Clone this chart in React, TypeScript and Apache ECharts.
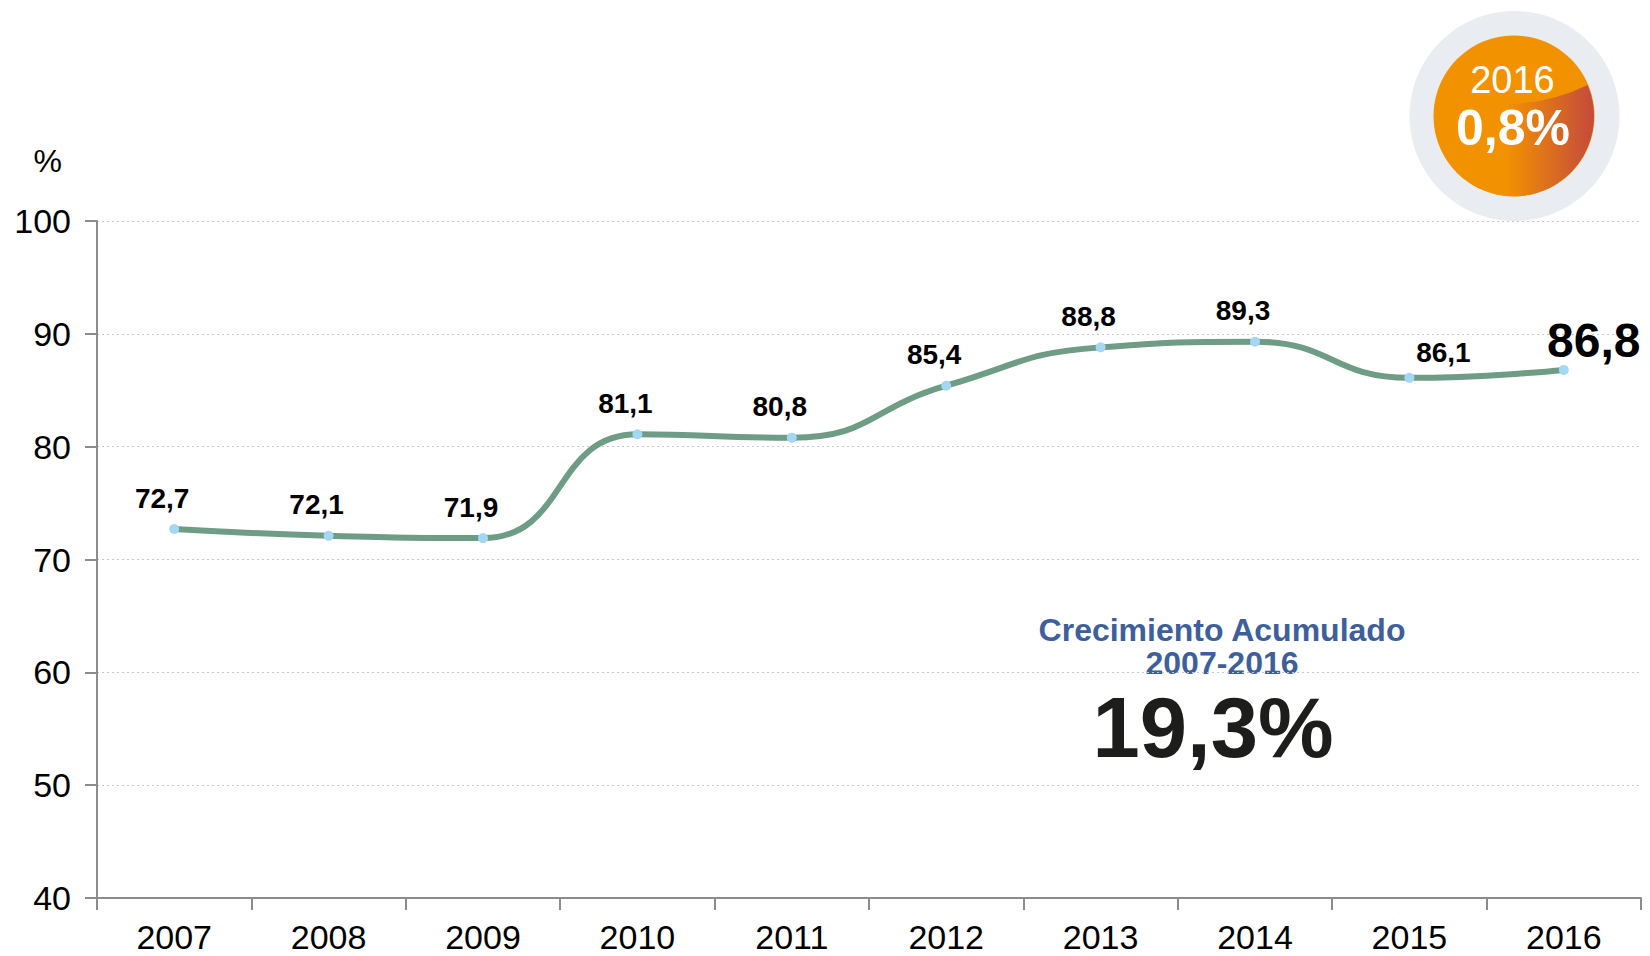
import React, { useEffect, useRef } from "react";
import * as echarts from "echarts";

const years = ["2007", "2008", "2009", "2010", "2011", "2012", "2013", "2014", "2015", "2016"];
const values = [72.7, 72.1, 71.9, 81.1, 80.8, 85.4, 88.8, 89.3, 86.1, 86.8];
const yMin = 40;
const yMax = 100;
const yInterval = 10;
const yUnit = "%";
const growthTitle = "Crecimiento Acumulado";
const growthPeriod = "2007-2016";
const growthValue = "19,3%";
const badgeYear = "2016";
const badgeValue = "0,8%";

const FONT = '"Liberation Sans", Arial, sans-serif';

echarts.graphic.registerShape(
  "badgeRed",
  echarts.graphic.extendPath("M 73.6 -31 Q 35 -12 -10 -12 L -79.1 -12 A 80 80 0 1 0 73.6 -31 Z", {})
);

const fmt = (v: number) => v.toFixed(1).replace(".", ",");

export default function App() {
  const ref = useRef<HTMLDivElement>(null);
  useEffect(() => {
    document.body.style.margin = "0";
    const chart = echarts.init(ref.current!, null, { renderer: "svg" });
    const last = values.length - 1;
    const seriesData = values.map((v, i) => {
      if (i === last) {
        return { value: v, label: { fontSize: 48, offset: [30, 12] } };
      }
      if (i === last - 1) {
        return { value: v, label: { offset: [34, 6] } };
      }
      return { value: v };
    });
    chart.setOption({
      animation: false,
      backgroundColor: "#ffffff",
      grid: { left: 97, right: 9, top: 221, bottom: 58, containLabel: false },
      xAxis: {
        type: "category",
        data: years,
        boundaryGap: true,
        axisLine: { lineStyle: { color: "#8c8c8c", width: 2 } },
        axisTick: { show: true, length: 12, lineStyle: { color: "#8c8c8c", width: 2 } },
        axisLabel: { color: "#000", fontSize: 34, lineHeight: 34, fontFamily: FONT, margin: 22 },
        splitLine: { show: false },
      },
      yAxis: {
        type: "value",
        min: yMin,
        max: yMax,
        interval: yInterval,
        name: yUnit,
        nameLocation: "end",
        nameGap: 44,
        nameTextStyle: { color: "#000", fontSize: 32, fontFamily: FONT, align: "right", padding: [0, 35, 0, 0] },
        axisLine: { show: true, lineStyle: { color: "#8c8c8c", width: 2 } },
        axisTick: { show: true, length: 12, lineStyle: { color: "#8c8c8c", width: 2 } },
        axisLabel: { color: "#000", fontSize: 34, fontFamily: FONT, margin: 26 },
        splitLine: { show: true, lineStyle: { color: "#c8c8c8", width: 1, type: [2, 3] } },
      },
      series: [
        {
          type: "line",
          data: seriesData,
          smooth: 0.5,
          symbol: "circle",
          symbolSize: 10,
          showAllSymbol: true,
          lineStyle: { color: "#6e9c84", width: 6 },
          itemStyle: { color: "#a3d7f4", borderWidth: 0 },
          label: {
            show: true,
            position: "top",
            distance: 12,
            offset: [-12, 0],
            color: "#000",
            fontWeight: "bold",
            fontSize: 28,
            fontFamily: FONT,
            formatter: (p: any) => fmt(p.value),
          },
          z: 3,
        },
      ],
      graphic: [
        {
          type: "text",
          style: {
            text: `${growthTitle}\n${growthPeriod}`,
            x: 1222,
            y: 646,
            textAlign: "center",
            textVerticalAlign: "middle",
            fill: "#3d5f9b",
            font: `bold 32px ${FONT}`,
            lineHeight: 33,
          },
        },
        {
          type: "text",
          style: {
            text: growthValue,
            x: 1213,
            y: 727,
            textAlign: "center",
            textVerticalAlign: "middle",
            fill: "#1d1d1b",
            font: `bold 85px ${FONT}`,
          },
        },
        {
          type: "circle",
          shape: { cx: 1514.5, cy: 116, r: 105 },
          style: { fill: "#e9ecf1" },
        },
        {
          type: "circle",
          shape: { cx: 1514, cy: 116, r: 80.5 },
          style: { fill: "#f39200" },
        },
        {
          type: "badgeRed",
          x: 1514,
          y: 116,
          style: {
            fill: new echarts.graphic.LinearGradient(0, 0, 1, 0, [
              { offset: 0, color: "#f39200" },
              { offset: 0.45, color: "#f39200" },
              { offset: 1, color: "#c44a3d" },
            ]),
          },
        },
        {
          type: "text",
          style: {
            text: badgeYear,
            x: 1512.5,
            y: 80,
            textAlign: "center",
            textVerticalAlign: "middle",
            fill: "#ffffff",
            font: `38px ${FONT}`,
          },
        },
        {
          type: "text",
          style: {
            text: badgeValue,
            x: 1513,
            y: 128,
            textAlign: "center",
            textVerticalAlign: "middle",
            fill: "#ffffff",
            font: `bold 50px ${FONT}`,
          },
        },
      ],
    });
    return () => chart.dispose();
  }, []);
  return <div ref={ref} style={{ width: 1650, height: 956 }} />;
}
